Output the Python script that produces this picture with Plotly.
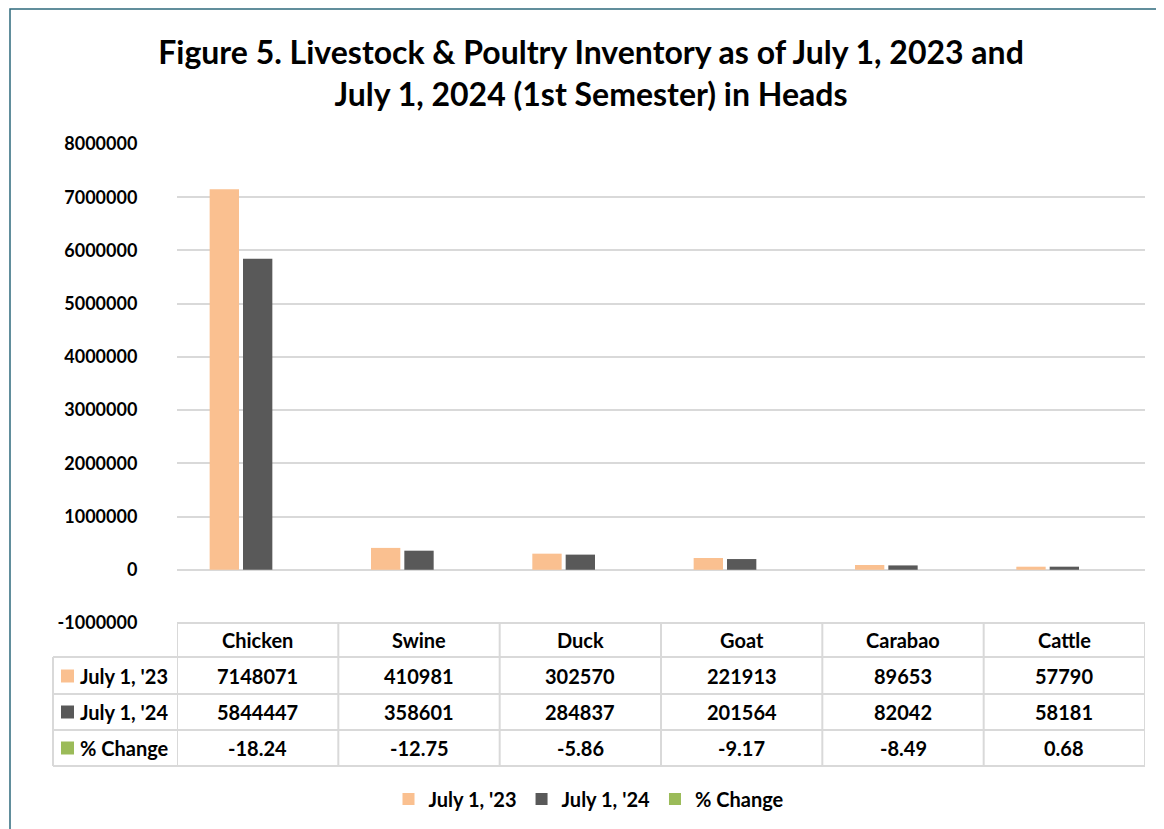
import plotly.graph_objects as go

categories = ["Chicken", "Swine", "Duck", "Goat", "Carabao", "Cattle"]
series_names = ["July 1, '23", "July 1, '24", "% Change"]
july_2023 = [7148071, 410981, 302570, 221913, 89653, 57790]
july_2024 = [5844447, 358601, 284837, 201564, 82042, 58181]
pct_change = [-18.24, -12.75, -5.86, -9.17, -8.49, 0.68]
colors = ["#FAC090", "#595959", "#9BBB59"]
tick_vals = [-1000000, 0, 1000000, 2000000, 3000000, 4000000, 5000000, 6000000, 7000000, 8000000]
tick_text = ["-1000000", "0", "1000000", "2000000", "3000000", "4000000", "5000000", "6000000", "7000000", "8000000"]

OFF = 8  # page body margin
W, H = 1164 - OFF, 829 - OFF
# plot area in reference page pixels
L, R, T, B = 177, 1145, 144, 623
FONT = "Lato"
GRID = "#D9D9D9"


def px_x(p):
    return (p - L) / (R - L)


def px_y(p):
    return (B - p) / (B - T)


series_values = [july_2023, july_2024, pct_change]
fig = go.Figure()
for name, vals, col in zip(series_names, series_values, colors):
    fig.add_trace(go.Bar(x=categories, y=vals, name=name, marker_color=col,
                         marker_line_width=0))

shapes = []
annotations = []

# frame
shapes.append(dict(type="rect", xref="paper", yref="paper",
                   x0=px_x(10), x1=px_x(1180), y0=px_y(845), y1=px_y(9),
                   line=dict(color="#2E6A7C", width=1.5), layer="below"))

# table grid lines
row_lines = [657, 694, 730, 766]
shapes.append(dict(type="line", xref="paper", yref="paper", x0=px_x(L), x1=px_x(R),
                   y0=px_y(623), y1=px_y(623), line=dict(color=GRID, width=2)))
for yl in row_lines:
    shapes.append(dict(type="line", xref="paper", yref="paper", x0=px_x(53), x1=px_x(R),
                       y0=px_y(yl), y1=px_y(yl), line=dict(color=GRID, width=2)))
shapes.append(dict(type="line", xref="paper", yref="paper", x0=px_x(53), x1=px_x(53),
                   y0=px_y(657), y1=px_y(766), line=dict(color=GRID, width=2)))
for k in range(len(categories) + 1):
    shapes.append(dict(type="line", xref="x", yref="paper", x0=k - 0.5, x1=k - 0.5,
                       y0=px_y(623), y1=px_y(766), line=dict(color=GRID, width=2)))

cell_font = dict(family=FONT, size=20, color="#000000", weight="bold")

# header row
for i, c in enumerate(categories):
    annotations.append(dict(x=i, y=px_y(640), xref="x", yref="paper", text=c,
                            xanchor="center", yanchor="middle",
                            showarrow=False, font=cell_font))

row_centers = [676, 712, 748]
row_texts = [
    [str(v) for v in july_2023],
    [str(v) for v in july_2024],
    [f"{v:.2f}" for v in pct_change],
]
for r, (name, col, texts) in enumerate(zip(series_names, colors, row_texts)):
    yc = row_centers[r]
    shapes.append(dict(type="rect", xref="paper", yref="paper",
                       x0=px_x(61), x1=px_x(74), y0=px_y(yc + 6.5), y1=px_y(yc - 6.5),
                       fillcolor=col, line=dict(width=0)))
    annotations.append(dict(x=px_x(78), y=px_y(yc), xref="paper", yref="paper",
                            text=name, showarrow=False, xanchor="left", yanchor="middle",
                            font=dict(family=FONT, size=20, color="#000000", weight="bold")))
    for i, t in enumerate(texts):
        annotations.append(dict(x=i, y=px_y(yc), xref="x", yref="paper", text=t,
                                xanchor="center", yanchor="middle",
                                showarrow=False, font=cell_font))

fig.update_layout(
    width=W, height=H,
    margin=dict(l=L - OFF, r=W - (R - OFF), t=T - OFF, b=H - (B - OFF), pad=0),
    paper_bgcolor="#FFFFFF", plot_bgcolor="#FFFFFF",
    barmode="group", bargap=0.38, bargroupgap=0.12,
    title=dict(text="Figure 5. Livestock & Poultry Inventory as of July 1, 2023 and<br>July 1, 2024 (1st Semester) in Heads",
               x=(591 - OFF) / W, xref="container", xanchor="center",
               y=1 - (64 - OFF) / H, yref="container", yanchor="middle",
               font=dict(family=FONT, size=32, color="#000000", weight="bold")),
    xaxis=dict(showticklabels=False, showgrid=False, zeroline=False, showline=False,
               range=[-0.5, len(categories) - 0.5]),
    yaxis=dict(range=[-1000000, 8000000], tickvals=tick_vals, ticktext=tick_text,
               showgrid=True, gridcolor=GRID, gridwidth=2,
               zeroline=True, zerolinecolor=GRID, zerolinewidth=2, showline=False,
               ticks="outside", ticklen=0, ticklabelstandoff=35,
               tickfont=dict(family=FONT, size=18, color="#000000", weight="bold")),
    legend=dict(orientation="h", xref="container", x=(589 - OFF) / W, xanchor="center",
                yref="container", y=1 - (799 - OFF) / H, yanchor="middle",
                font=dict(family=FONT, size=20, color="#000000", weight="bold"),
                itemwidth=30, traceorder="normal"),
    showlegend=True,
    shapes=shapes, annotations=annotations,
)

fig.write_html("out.html")
